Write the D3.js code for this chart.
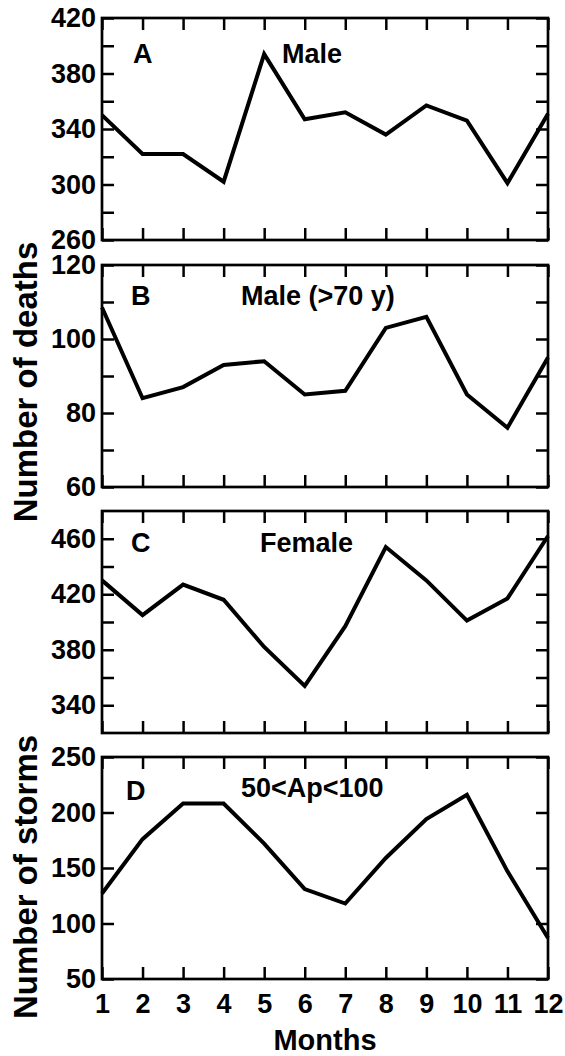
<!DOCTYPE html>
<html>
<head>
<meta charset="utf-8">
<script src="https://cdn.jsdelivr.net/npm/d3@7"></script>
<style>
  body { margin: 0; background: #fff; }
  text { font-family: "Liberation Sans", Arial, sans-serif; font-weight: bold; }
</style>
</head>
<body>
<div id="vis1"></div>
<script>
// data
const MONTHS = [1, 2, 3, 4, 5, 6, 7, 8, 9, 10, 11, 12];
const MALE = [350, 322, 322, 302, 394, 347, 352, 336, 357, 346, 301, 351];
const MALE_70 = [108.5, 84, 87, 93, 94, 85, 86, 103, 106, 85, 76, 95];
const FEMALE = [430, 405, 427, 416, 382, 354, 397, 454, 430, 401, 417, 462];
const STORMS = [127, 176, 208, 208, 172, 131, 118, 159, 194, 216, 147, 87];

const PANEL_LETTERS = ["A", "B", "C", "D"];
const PANEL_TITLES = ["Male", "Male (>70 y)", "Female", "50<Ap<100"];
const Y_DOMAINS = [[260, 420], [60, 120], [320, 480], [50, 250]];
const Y_MAJOR = [[260, 300, 340, 380, 420], [60, 80, 100, 120], [340, 380, 420, 460], [50, 100, 150, 200, 250]];
const Y_MINOR = [[280, 320, 360, 400], [70, 90, 110], [360, 400, 440], []];

const FRAME_HEIGHT = 1056;
const FRAME_WIDTH = 565;
const LEFT = 102;
const RIGHT = 548;
const PANEL_TOPS = [18, 265, 511, 757];
const PANEL_H = 222;
const TICK = 12;

const SERIES = [MALE, MALE_70, FEMALE, STORMS];
// label positions (x, baseline) per panel
const LETTER_POS = [[133, 63], [131, 305], [131, 552], [126, 800]];
const TITLE_POS = [[282, 63], [241, 305], [260, 552], [241, 797]];

const FRAME = d3.select("#vis1")
                  .append("svg")
                    .attr("height", FRAME_HEIGHT)
                    .attr("width", FRAME_WIDTH);

const X_SCALE = d3.scaleLinear()
                  .domain([1, 12])
                  .range([LEFT, RIGHT]);

PANEL_TOPS.forEach((top, i) => {
  const Y_SCALE = d3.scaleLinear()
                    .domain(Y_DOMAINS[i])
                    .range([top + PANEL_H, top]);

  const g = FRAME.append("g");

  // left axis, labelled, ticks point inward
  g.append("g")
      .attr("transform", "translate(" + LEFT + ",0)")
      .call(d3.axisLeft(Y_SCALE).tickValues(Y_MAJOR[i]).tickSizeInner(-TICK).tickSizeOuter(0).tickPadding(6))
      .attr("font-size", "27px")
      .attr("font-family", null);
  g.append("g")
      .attr("transform", "translate(" + LEFT + ",0)")
      .call(d3.axisLeft(Y_SCALE).tickValues(Y_MINOR[i]).tickSizeInner(-TICK).tickSizeOuter(0).tickFormat(""));

  // right axis
  g.append("g")
      .attr("transform", "translate(" + RIGHT + ",0)")
      .call(d3.axisRight(Y_SCALE).tickValues(Y_MAJOR[i].concat(Y_MINOR[i])).tickSizeInner(-TICK).tickSizeOuter(0).tickFormat(""));

  // top axis
  g.append("g")
      .attr("transform", "translate(0," + top + ")")
      .call(d3.axisTop(X_SCALE).tickValues(MONTHS).tickSizeInner(-TICK).tickSizeOuter(0).tickFormat(""));

  // bottom axis, month labels only on last panel
  const xb = d3.axisBottom(X_SCALE).tickValues(MONTHS).tickSizeInner(-TICK).tickSizeOuter(0).tickPadding(15);
  if (i < 3) xb.tickFormat("");
  g.append("g")
      .attr("transform", "translate(0," + (top + PANEL_H) + ")")
      .call(xb)
      .attr("font-size", "27px")
      .attr("font-family", null);

  g.selectAll(".domain").remove();
  g.selectAll(".tick line").attr("stroke", "#000").attr("stroke-width", 2.5);
  g.selectAll(".tick text").attr("fill", "#000");

  // box
  g.append("rect")
      .attr("x", LEFT)
      .attr("y", top)
      .attr("width", RIGHT - LEFT)
      .attr("height", PANEL_H)
      .attr("fill", "none")
      .attr("stroke", "#000")
      .attr("stroke-width", 2.7);

  // data line
  const line = d3.line()
                  .x((d, j) => X_SCALE(MONTHS[j]))
                  .y((d) => Y_SCALE(d));
  g.append("path")
      .datum(SERIES[i])
      .attr("d", line)
      .attr("fill", "none")
      .attr("stroke", "#000")
      .attr("stroke-width", 4)
      .attr("stroke-linejoin", "miter");

  g.append("text")
      .attr("x", LETTER_POS[i][0])
      .attr("y", LETTER_POS[i][1])
      .attr("font-size", "27px")
      .text(PANEL_LETTERS[i]);
  g.append("text")
      .attr("x", TITLE_POS[i][0])
      .attr("y", TITLE_POS[i][1])
      .attr("font-size", "27px")
      .text(PANEL_TITLES[i]);
});

// axis titles
FRAME.append("text")
    .attr("transform", "translate(37,382) rotate(-90)")
    .attr("text-anchor", "middle")
    .attr("font-size", "33px")
    .text("Number of deaths");

FRAME.append("text")
    .attr("transform", "translate(37,877) rotate(-90)")
    .attr("text-anchor", "middle")
    .attr("font-size", "33px")
    .text("Number of storms");

FRAME.append("text")
    .attr("x", (LEFT + RIGHT) / 2)
    .attr("y", 1050)
    .attr("text-anchor", "middle")
    .attr("font-size", "29px")
    .text("Months");
</script>
</body>
</html>
